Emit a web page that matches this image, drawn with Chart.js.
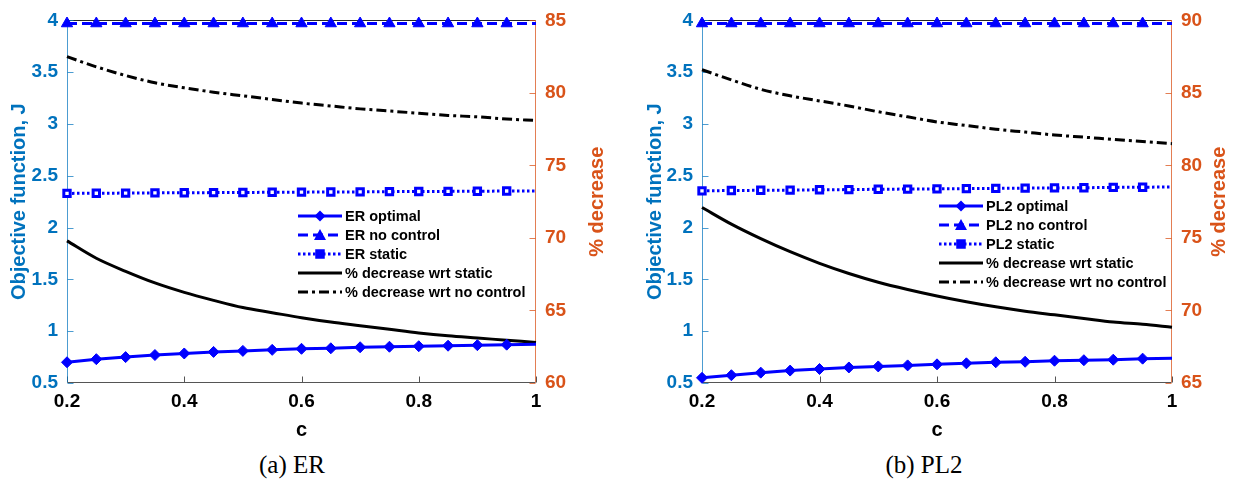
<!DOCTYPE html>
<html lang="en">
<head>
    <meta charset="UTF-8">
    <title>Objective function vs c</title>
    <script src="https://cdn.jsdelivr.net/npm/chart.js"></script>
    <style>
        body { margin: 0; background: #fff; width: 1242px; height: 486px; position: relative; overflow: hidden;
               font-family: "Liberation Sans", Arial, sans-serif; }
        .panel { position: absolute; top: 0; width: 621px; height: 445px; }
        .caption { position: absolute; top: 451px; width: 200px; text-align: center;
                   font-family: "Liberation Serif", serif; font-size: 25px; color: #000; }
        .legend { position: absolute; font-weight: bold; font-size: 14.5px; color: #000; }
        .legend .row { height: 19px; display: flex; align-items: center; white-space: nowrap; }
        .legend svg { margin-right: 3px; }
    </style>
</head>
<body>
    <div class="panel" style="left:0"><canvas id="erChart"></canvas></div>
    <div class="panel" style="left:621px"><canvas id="pl2Chart"></canvas></div>
    <div class="legend" id="erLegend" style="left:298px; top:206px"></div>
    <div class="legend" id="pl2Legend" style="left:939px; top:196px"></div>
    <div class="caption" style="left:192px">(a) ER</div>
    <div class="caption" style="left:824px">(b) PL2</div>

    <script>
        // c values (x axis)
        const cValues = [0.2, 0.25, 0.3, 0.35, 0.4, 0.45, 0.5, 0.55, 0.6, 0.65, 0.7, 0.75, 0.8, 0.85, 0.9, 0.95, 1];

        // ER network - objective function (left axis)
        const erOptimal   = [0.70, 0.73, 0.75, 0.77, 0.785, 0.80, 0.81, 0.82, 0.83, 0.835, 0.845, 0.85, 0.855, 0.86, 0.865, 0.87, 0.875];
        const erNoControl = [3.97, 3.97, 3.97, 3.97, 3.97, 3.97, 3.97, 3.97, 3.97, 3.97, 3.97, 3.97, 3.97, 3.97, 3.97, 3.97, 3.97];
        const erStatic    = [2.33, 2.332, 2.333, 2.335, 2.336, 2.338, 2.339, 2.341, 2.342, 2.344, 2.345, 2.347, 2.348, 2.35, 2.351, 2.353, 2.354];
        // ER network - % decrease (right axis)
        const erDecStatic    = [69.8, 68.6, 67.7, 66.9, 66.25, 65.7, 65.2, 64.85, 64.5, 64.2, 63.95, 63.7, 63.45, 63.25, 63.1, 62.95, 62.8];
        const erDecNoControl = [82.5, 81.8, 81.2, 80.7, 80.35, 80.05, 79.8, 79.55, 79.3, 79.1, 78.9, 78.75, 78.6, 78.45, 78.35, 78.2, 78.1];

        // PL2 network - objective function (left axis)
        const pl2Optimal   = [0.55, 0.575, 0.60, 0.62, 0.635, 0.65, 0.66, 0.67, 0.68, 0.69, 0.70, 0.705, 0.715, 0.72, 0.725, 0.735, 0.74];
        const pl2NoControl = [3.97, 3.97, 3.97, 3.97, 3.97, 3.97, 3.97, 3.97, 3.97, 3.97, 3.97, 3.97, 3.97, 3.97, 3.97, 3.97, 3.97];
        const pl2Static    = [2.355, 2.358, 2.36, 2.362, 2.365, 2.367, 2.37, 2.372, 2.374, 2.376, 2.378, 2.381, 2.383, 2.385, 2.388, 2.39, 2.392];
        // PL2 network - % decrease (right axis)
        const pl2DecStatic    = [77.1, 75.95, 74.95, 74.05, 73.25, 72.55, 71.95, 71.45, 71.0, 70.6, 70.25, 69.95, 69.7, 69.45, 69.2, 69.05, 68.85];
        const pl2DecNoControl = [86.6, 85.9, 85.25, 84.8, 84.45, 84.1, 83.7, 83.35, 83.0, 82.75, 82.5, 82.3, 82.1, 81.95, 81.8, 81.65, 81.5];

        // tick settings
        const xTicks = { min: 0.2, max: 1, step: 0.2 };
        const leftTicks = { min: 0.5, max: 4, step: 0.5 };
        const erRightTicks = { min: 60, max: 85, step: 5 };
        const pl2RightTicks = { min: 65, max: 90, step: 5 };

        const BLUE = '#0000ff';
        const LEFT_COLOR = '#0072BD';
        const RIGHT_COLOR = '#D95319';
        const FONT = '"Liberation Sans", Arial, sans-serif';
        const fmt = v => String(+v.toFixed(2));
        const lastIdx = cValues.length - 1;

        function pts(arr) {
            return arr.map((v, i) => ({ x: cValues[i], y: v }));
        }

        // MATLAB-like box: inward ticks, coloured y axes, top border, right title read bottom-up
        const axesFrame = {
            id: 'axesFrame',
            beforeDatasetsDraw(chart) {
                const ctx = chart.ctx;
                const a = chart.chartArea;
                const L = Math.round(a.left) + 0.5, R = Math.round(a.right) - 0.5;
                const T = Math.round(a.top) + 0.5, B = Math.round(a.bottom) - 0.5;
                ctx.save();
                ctx.lineWidth = 1;
                ctx.strokeStyle = '#262626';
                ctx.beginPath(); ctx.moveTo(L, T); ctx.lineTo(R, T); ctx.stroke();
                ctx.strokeStyle = '#555';
                ctx.beginPath(); ctx.moveTo(L, B); ctx.lineTo(R, B); ctx.stroke();
                chart.scales.x.ticks.forEach(t => {
                    const px = Math.round(chart.scales.x.getPixelForValue(t.value)) + 0.5;
                    ctx.beginPath(); ctx.moveTo(px, B); ctx.lineTo(px, B - 6); ctx.stroke();
                });
                ctx.strokeStyle = 'rgba(0,114,189,0.7)';
                ctx.beginPath(); ctx.moveTo(L, T); ctx.lineTo(L, B); ctx.stroke();
                chart.scales.y.ticks.forEach(t => {
                    const py = Math.round(chart.scales.y.getPixelForValue(t.value)) + 0.5;
                    ctx.beginPath(); ctx.moveTo(L, py); ctx.lineTo(L + 6, py); ctx.stroke();
                });
                ctx.strokeStyle = 'rgba(217,83,25,0.75)';
                ctx.beginPath(); ctx.moveTo(R, T); ctx.lineTo(R, B); ctx.stroke();
                chart.scales.y1.ticks.forEach(t => {
                    const py = Math.round(chart.scales.y1.getPixelForValue(t.value)) + 0.5;
                    ctx.beginPath(); ctx.moveTo(R, py); ctx.lineTo(R - 6, py); ctx.stroke();
                });
                // right axis title
                const o = chart.options.plugins.axesFrame;
                ctx.translate(o.rightTitleX, (a.top + a.bottom) / 2);
                ctx.rotate(-Math.PI / 2);
                ctx.fillStyle = RIGHT_COLOR;
                ctx.font = 'bold 20px ' + FONT;
                ctx.textAlign = 'center';
                ctx.textBaseline = 'middle';
                ctx.fillText('% decrease', 0, 0);
                ctx.restore();
            }
        };

        function makeDatasets(opt, noCtrl, stat, decStat, decNo) {
            return [
                { data: pts(opt), yAxisID: 'y', borderColor: BLUE, backgroundColor: BLUE, borderWidth: 3,
                  pointStyle: 'rectRot', pointRadius: c => c.dataIndex === lastIdx ? 0 : 5.5, pointBorderWidth: 1 },
                { data: pts(noCtrl), yAxisID: 'y', borderColor: BLUE, backgroundColor: BLUE, borderWidth: 3,
                  borderDash: [10, 5], pointStyle: 'triangle', pointRadius: c => c.dataIndex === lastIdx ? 0 : 6.5, pointBorderWidth: 1 },
                { data: pts(stat), yAxisID: 'y', borderColor: BLUE, backgroundColor: '#fff', borderWidth: 3,
                  borderDash: [2.5, 2.5], pointStyle: 'rect', pointRadius: c => c.dataIndex === lastIdx ? 0 : 4.5, pointBorderWidth: 3 },
                { data: pts(decStat), yAxisID: 'y1', borderColor: '#000', borderWidth: 3, pointRadius: 0,
                  cubicInterpolationMode: 'monotone' },
                { data: pts(decNo), yAxisID: 'y1', borderColor: '#000', borderWidth: 3, pointRadius: 0,
                  borderDash: [10, 4, 3, 4], cubicInterpolationMode: 'monotone' }
            ];
        }

        function makeChart(id, datasets, right, dims) {
            const tickFont = { family: FONT, size: 19, weight: 'bold' };
            const titleFont = { family: FONT, size: 20, weight: 'bold' };
            return new Chart(document.getElementById(id), {
                type: 'line',
                data: { datasets: datasets },
                options: {
                    responsive: true,
                    maintainAspectRatio: false,
                    animation: false,
                    clip: false,
                    layout: { padding: { top: 20, left: 0, right: 0, bottom: 0 } },
                    plugins: {
                        legend: { display: false }, tooltip: { enabled: false },
                        axesFrame: { rightTitleX: dims.rightTitleX }
                    },
                    scales: {
                        x: {
                            type: 'linear', min: xTicks.min, max: xTicks.max,
                            ticks: { stepSize: xTicks.step, color: '#000', font: tickFont, padding: 7, callback: fmt },
                            grid: { display: false, drawTicks: false }, border: { display: false },
                            title: { display: true, text: 'c', color: '#000', font: titleFont, padding: { top: 0, bottom: 3 } },
                            afterFit(s) { s.height = 62; }
                        },
                        y: {
                            position: 'left', min: leftTicks.min, max: leftTicks.max,
                            ticks: { stepSize: leftTicks.step, color: LEFT_COLOR, font: tickFont, padding: 9, callback: fmt },
                            grid: { display: false, drawTicks: false }, border: { display: false },
                            title: { display: true, text: 'Objective function, J', color: LEFT_COLOR, font: titleFont,
                                     padding: { top: dims.leftPad, bottom: 0 } },
                            afterFit(s) { s.width = dims.leftW; }
                        },
                        y1: {
                            position: 'right', min: right.min, max: right.max,
                            ticks: { stepSize: right.step, color: RIGHT_COLOR, font: tickFont, padding: 9, callback: fmt },
                            grid: { display: false, drawTicks: false }, border: { display: false },
                            title: { display: false },
                            afterFit(s) { s.width = dims.rightW; }
                        }
                    }
                },
                plugins: [axesFrame]
            });
        }

        // legend built as html, samples as small svg
        function sample(color, dash, marker) {
            let m = '';
            if (marker === 'diamond') m = `<polygon points="22,0.5 27.5,6 22,11.5 16.5,6" fill="${color}"/>`;
            if (marker === 'triangle') m = `<polygon points="22,0 28,11 16,11" fill="${color}"/>`;
            if (marker === 'square') m = `<rect x="18" y="2" width="8" height="8" fill="${color}" stroke="${color}" stroke-width="1.5"/>`;
            const da = dash ? `stroke-dasharray="${dash}"` : '';
            return `<svg width="44" height="12"><line x1="0" y1="6" x2="44" y2="6" stroke="${color}" stroke-width="3" ${da}/>${m}</svg>`;
        }
        function buildLegend(id, name) {
            const rows = [
                [sample(BLUE, '', 'diamond'), name + ' optimal'],
                [sample(BLUE, '10 5', 'triangle'), name + ' no control'],
                [sample(BLUE, '2.5 2.5', 'square'), name + ' static'],
                [sample('#000', '', ''), '% decrease wrt static'],
                [sample('#000', '10 4 3 4', ''), '% decrease wrt no control']
            ];
            document.getElementById(id).innerHTML =
                rows.map(r => `<div class="row">${r[0]}<span>${r[1]}</span></div>`).join('');
        }

        makeChart('erChart', makeDatasets(erOptimal, erNoControl, erStatic, erDecStatic, erDecNoControl),
                  erRightTicks, { leftW: 67, leftPad: 7, rightW: 85, rightTitleX: 597 });
        makeChart('pl2Chart', makeDatasets(pl2Optimal, pl2NoControl, pl2Static, pl2DecStatic, pl2DecNoControl),
                  pl2RightTicks, { leftW: 81, leftPad: 22, rightW: 70, rightTitleX: 598 });
        buildLegend('erLegend', 'ER');
        buildLegend('pl2Legend', 'PL2');
    </script>
</body>
</html>
